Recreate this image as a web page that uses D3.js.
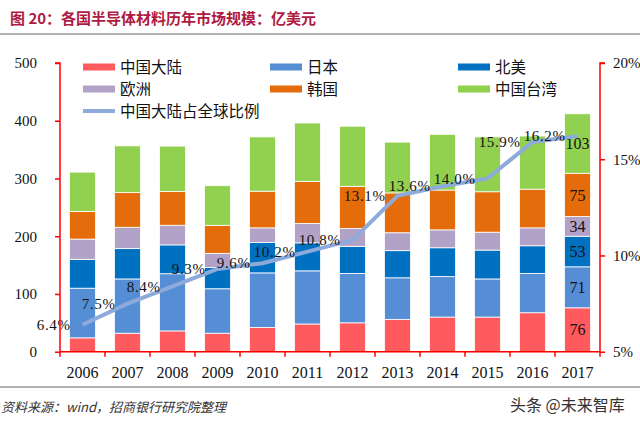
<!DOCTYPE html>
<html><head><meta charset="utf-8">
<script src="https://cdn.jsdelivr.net/npm/d3@7/dist/d3.min.js"></script>
<style>
html,body{margin:0;padding:0;background:#fff;}
svg{display:block;}
</style></head>
<body>
<svg id="chart" width="640" height="424"></svg>
<script>
const years = ["2006","2007","2008","2009","2010","2011","2012","2013","2014","2015","2016","2017"];
const chinaMainland = [24, 32, 36, 32, 42, 48, 50, 56, 60, 60, 67.5, 76];
const japan = [86, 94, 99, 77, 94.5, 92, 85.5, 72, 70, 66, 68, 71];
const northAmerica = [50, 52.5, 50, 37, 52.7, 48.5, 47, 47, 50, 50, 48, 53];
const europe = [35, 37, 34, 24.4, 25.3, 33.6, 31, 31, 31, 31, 31, 34];
const korea = [48, 60, 58.5, 48.5, 63.5, 73, 73, 69, 69, 70, 67, 75];
const taiwan = [68, 81, 78.6, 68.6, 94, 101, 104, 88, 96.5, 95, 92, 103];
const share = [6.4, 7.5, 8.4, 9.3, 9.6, 10.2, 10.8, 13.1, 13.6, 14.0, 15.9, 16.2];
const leftTicks = [0, 100, 200, 300, 400, 500];
const rightTicks = [5, 10, 15, 20];
const labels2017 = ["76", "71", "53", "34", "75", "103"];

const seriesNames = ["中国大陆", "日本", "北美", "欧洲", "韩国", "中国台湾"];
const seriesData = [chinaMainland, japan, northAmerica, europe, korea, taiwan];
const colors = ["#ff5b5f", "#558ed5", "#0070c0", "#b3a2c7", "#e46c0a", "#92d050"];
const lineName = "中国大陆占全球比例";
const lineColor = "#8eaadb";

const svg = d3.select("#chart");
const serif = "'Liberation Serif','Times New Roman',serif";
const cjk = "'Noto Sans CJK SC','Noto Sans',sans-serif";
const axisRed = "#ff0000";

// Title
svg.append("text").attr("x", 10).attr("y", 24)
  .attr("font-family", "'Noto Sans CJK SC',sans-serif").attr("font-weight", "bold")
  .attr("font-size", 15).attr("fill", "#ae1a41")
  .text("图 20：各国半导体材料历年市场规模：亿美元");
svg.append("line").attr("x1", 0).attr("x2", 640).attr("y1", 34).attr("y2", 34)
  .attr("stroke", "#999").attr("stroke-width", 1.5);

const pLeft = 60, pRight = 600, pTop = 63, pBottom = 351.7;
const x = d3.scaleBand().domain(years).range([pLeft, pRight]).paddingInner(0.42).paddingOuter(0.21);
const y = d3.scaleLinear().domain([0, 500]).range([pBottom, pTop]);
const y2 = d3.scaleLinear().domain([5, 20]).range([pBottom, pTop]);

// stacked data
const table = years.map((yr, i) => {
  const o = {year: yr};
  seriesNames.forEach((n, k) => o[n] = seriesData[k][i]);
  return o;
});
const stacked = d3.stack().keys(seriesNames)(table);

const g = svg.append("g");
stacked.forEach((layer, k) => {
  g.selectAll(null).data(layer).enter().append("rect")
    .attr("x", d => x(d.data.year))
    .attr("width", x.bandwidth())
    .attr("y", d => y(d[1]))
    .attr("height", d => y(d[0]) - y(d[1]))
    .attr("fill", colors[k])
    .attr("stroke", "#ffffff").attr("stroke-width", 0.8);
});

// 2017 labels
const last = stacked.map(l => l[l.length - 1]);
svg.selectAll(null).data(last).enter().append("text")
  .attr("x", d => x(d.data.year) + x.bandwidth() / 2)
  .attr("y", d => (y(d[0]) + y(d[1])) / 2)
  .attr("dy", "0.35em")
  .attr("text-anchor", "middle")
  .attr("font-family", serif).attr("font-size", 16).attr("fill", "#111")
  .text((d, i) => labels2017[i]);

// line
const cx = d => x(d) + x.bandwidth() / 2;
const line = d3.line().x((d, i) => cx(years[i])).y(d => y2(d));
svg.append("path").datum(share).attr("d", line)
  .attr("fill", "none").attr("stroke", lineColor).attr("stroke-width", 4)
  .attr("stroke-linejoin", "miter").attr("stroke-linecap", "butt");

svg.selectAll(null).data(share).enter().append("text")
  .attr("x", (d, i) => cx(years[i]) - 12)
  .attr("y", d => y2(d))
  .attr("dy", "0.35em")
  .attr("text-anchor", "end")
  .attr("font-family", serif).attr("font-size", 15).attr("fill", "#111")
  .attr("letter-spacing", 0.6)
  .text(d => d.toFixed(1) + "%");

// axes
const leftAxis = d3.axisLeft(y).tickValues(leftTicks).tickSize(5).tickPadding(18);
const ga = svg.append("g").attr("transform", `translate(${pLeft},0)`).call(leftAxis);
ga.select(".domain").attr("stroke", axisRed).attr("stroke-width", 1.5).attr("d", `M-5,${pTop}H0V${pBottom}`);
ga.selectAll(".tick line").attr("stroke", axisRed).attr("stroke-width", 1.5);
ga.selectAll(".tick text").attr("font-family", serif).attr("font-size", 15).attr("fill", "#111");

const rightAxis = d3.axisRight(y2).tickValues(rightTicks).tickSize(5).tickPadding(8).tickFormat(d => d + "%");
const gr = svg.append("g").attr("transform", `translate(${pRight},0)`).call(rightAxis);
gr.select(".domain").attr("stroke", axisRed).attr("stroke-width", 1.5).attr("d", `M5,${pTop}H0V${pBottom}`);
gr.selectAll(".tick line").attr("stroke", axisRed).attr("stroke-width", 1.5);
gr.selectAll(".tick text").attr("font-family", serif).attr("font-size", 15).attr("fill", "#111");

// bottom axis
const gb = svg.append("g").attr("transform", `translate(0,${pBottom})`);
gb.append("line").attr("x1", pLeft).attr("x2", pRight).attr("y1", 0).attr("y2", 0)
  .attr("stroke", axisRed).attr("stroke-width", 1.5);
const gap = (x.step() - x.bandwidth()) / 2;
const bounds = years.map(d => x(d) - gap).concat([x(years[years.length - 1]) + x.bandwidth() + gap]);
gb.selectAll(null).data(bounds).enter().append("line")
  .attr("x1", d => d).attr("x2", d => d).attr("y1", 0).attr("y2", 5)
  .attr("stroke", axisRed).attr("stroke-width", 1.5);
gb.selectAll(null).data(years).enter().append("text")
  .attr("x", d => cx(d)).attr("y", 26)
  .attr("text-anchor", "middle")
  .attr("font-family", serif).attr("font-size", 16).attr("fill", "#111")
  .text(d => d);

// legend
const legPos = [[83, 67], [270, 67], [458, 67], [83, 89], [270, 89], [458, 89]];
const legOrder = [0, 1, 2, 3, 4, 5];
const lg = svg.append("g");
legOrder.forEach((k, i) => {
  const [lx, ly] = legPos[i];
  lg.append("rect").attr("x", lx).attr("y", ly - 3.5).attr("width", 32).attr("height", 7).attr("fill", colors[k]);
  lg.append("text").attr("x", lx + 37).attr("y", ly).attr("dy", "0.36em")
    .attr("font-family", cjk).attr("font-size", 15.5).attr("fill", "#111").text(seriesNames[k]);
});
lg.append("line").attr("x1", 83).attr("x2", 115).attr("y1", 111).attr("y2", 111)
  .attr("stroke", lineColor).attr("stroke-width", 4);
lg.append("text").attr("x", 120).attr("y", 111).attr("dy", "0.36em")
  .attr("font-family", cjk).attr("font-size", 15.5).attr("fill", "#111").text(lineName);

// footer
svg.append("line").attr("x1", 0).attr("x2", 640).attr("y1", 387).attr("y2", 387)
  .attr("stroke", "#999").attr("stroke-width", 1.5);
svg.append("text").attr("x", 1).attr("y", 412)
  .attr("font-family", cjk).attr("font-style", "italic").attr("font-size", 13).attr("fill", "#333")
  .text("资料来源：wind，招商银行研究院整理");
svg.append("text").attr("x", 510).attr("y", 411)
  .attr("font-family", cjk).attr("font-size", 16).attr("fill", "#333")
  .text("头条 @未来智库");
</script>
</body></html>
